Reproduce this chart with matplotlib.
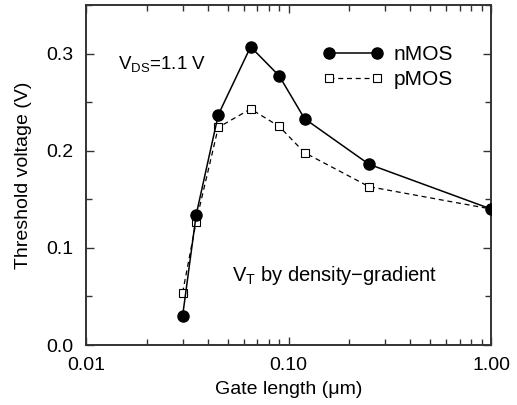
import matplotlib
matplotlib.use("Agg")
import matplotlib.pyplot as plt
from matplotlib.ticker import FixedLocator, NullFormatter, MultipleLocator

plt.rcParams['font.family'] = ['Liberation Sans', 'DejaVu Sans']
plt.rcParams['mathtext.fontset'] = 'custom'
plt.rcParams['mathtext.rm'] = 'Liberation Sans'

gate_length = [0.03, 0.035, 0.045, 0.065, 0.09, 0.12, 0.25, 1.0]
vt_nmos = [0.030, 0.134, 0.237, 0.307, 0.277, 0.233, 0.186, 0.140]
vt_pmos = [0.054, 0.127, 0.224, 0.243, 0.225, 0.198, 0.163, 0.140]

fig = plt.figure(figsize=(5.17, 4.05), dpi=100)
ax = fig.add_axes([86 / 517, 60 / 405, 405 / 517, 340 / 405])

ax.plot(gate_length, vt_nmos, '-', color='black', lw=1.1, marker='o',
        ms=8, mfc='black', mec='black', label='nMOS', zorder=3)
ax.plot(gate_length, vt_pmos, '--', color='black', lw=0.9, marker='s',
        ms=6, mfc='white', mec='black', mew=0.8, label='pMOS',
        dashes=(4, 3), zorder=2)

ax.set_xscale('log')
ax.set_xlim(0.01, 1.0)
ax.set_ylim(0.0, 0.35)
ax.set_xticks([0.01, 0.1, 1.0])
ax.set_xticklabels(['0.01', '0.10', '1.00'])
minors = [k * 10.0 ** e for e in (-2, -1) for k in range(2, 10)]
ax.xaxis.set_minor_locator(FixedLocator(minors))
ax.xaxis.set_minor_formatter(NullFormatter())
ax.set_yticks([0.0, 0.1, 0.2, 0.3])
ax.set_yticklabels(['0.0', '0.1', '0.2', '0.3'])
ax.yaxis.set_minor_locator(MultipleLocator(0.05))

ax.tick_params(which='both', direction='in', top=True, right=True,
               labelsize=14, width=1.0, color='#333333')
ax.tick_params(which='major', length=6)
ax.tick_params(which='minor', length=4)
ax.tick_params(axis='x', which='major', pad=9)
ax.tick_params(axis='y', which='major', pad=9)
for s in ax.spines.values():
    s.set_linewidth(1.4)
    s.set_color('#333333')

ax.set_xlabel('Gate length (\u03bcm)', fontsize=14, labelpad=5)
ax.set_ylabel('Threshold voltage (V)', fontsize=14, labelpad=10)

ax.text(0.0144, 0.283, r'V$_{\mathrm{DS}}$=1.1 V', fontsize=13.5)
ax.text(0.0526, 0.066, r'V$_{\mathrm{T}}$ by density' + '\u2212gradient',
        fontsize=14.5)

ax.legend(loc='upper left', bbox_to_anchor=(0.585, 0.882), frameon=False,
          fontsize=15, numpoints=2, handlelength=2.9, handletextpad=0.5,
          labelspacing=0.3, borderaxespad=0, borderpad=0)

fig.savefig('out.png', dpi=100)
